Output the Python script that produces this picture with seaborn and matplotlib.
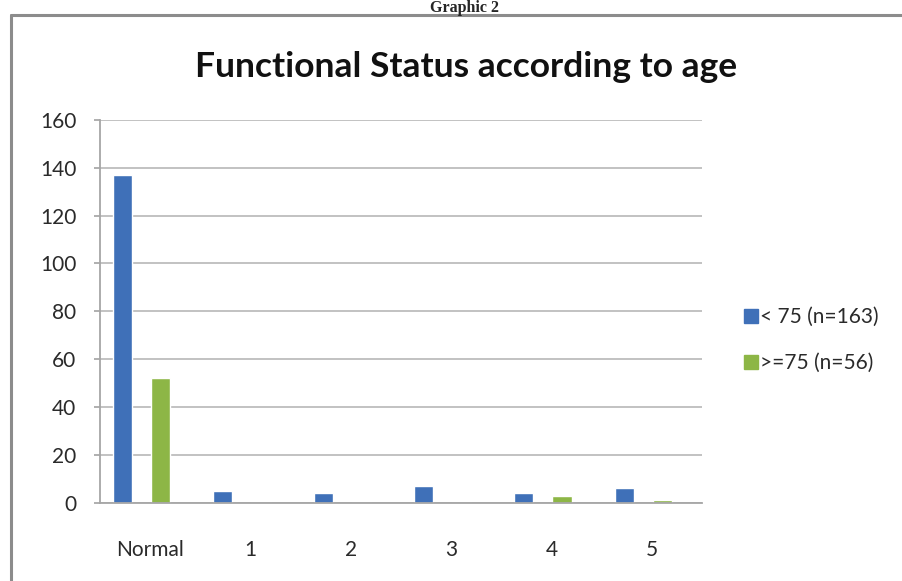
import numpy as np
import pandas as pd
import matplotlib.pyplot as plt
from matplotlib.lines import Line2D
import seaborn as sns

# Data
status = ['Normal', '1', '2', '3', '4', '5']
under_75 = [137, 5, 4, 7, 4, 6]
over_75 = [52, 0, 0, 0, 3, 1]
group_names = ['< 75 (n=163)', '>=75 (n=56)']
y_ticks = [0, 20, 40, 60, 80, 100, 120, 140, 160]

blue = '#3F70B8'
green = '#8DB646'
grid_grey = '#BDBDBD'

df = pd.DataFrame({
    'status': status * 2,
    'count': under_75 + over_75,
    'group': [group_names[0]] * len(status) + [group_names[1]] * len(status),
})

sns.set_theme(style="white")
plt.rcParams['font.family'] = ['Lato', 'DejaVu Sans']

fig = plt.figure(figsize=(9.03, 5.81), dpi=100)
ax = fig.add_axes([0.1107, 0.1348, 0.6667, 0.6587])

sns.barplot(data=df, x='status', y='count', hue='group', order=status,
            hue_order=group_names, palette=[blue, green], saturation=1,
            width=0.76, gap=0.5, ax=ax)

# axes look (Excel style)
ax.set_ylim(0, 160)
ax.set_yticks(y_ticks)
ax.set_xticks(np.arange(len(status)) + 0.085)
ax.set_xticklabels(status)
ax.set_xlim(-0.5 + 0.085, len(status) - 0.5 + 0.085)
ax.set_xlabel('')
ax.set_ylabel('')
ax.yaxis.grid(True, color=grid_grey, lw=1.3)
ax.set_axisbelow(True)
for side in ['top', 'right']:
    ax.spines[side].set_visible(False)
for side in ['left', 'bottom']:
    ax.spines[side].set_color('#A6A6A6')
    ax.spines[side].set_linewidth(1.3)
ax.tick_params(axis='y', left=True, length=4, color='#A6A6A6', pad=13,
               labelsize=15, labelcolor='#2A2A2A')
ax.tick_params(axis='x', bottom=False, pad=21, labelsize=15, labelcolor='#2A2A2A')

# legend to the right
ax.get_legend().remove()
handles = [Line2D([], [], marker='s', ls='', color=c, markersize=10) for c in [blue, green]]
fig.legend(handles, group_names, loc='center left', bbox_to_anchor=(0.804, 0.415),
           frameon=False, fontsize=15, handlelength=0.6, handletextpad=0.15,
           labelspacing=1.25, labelcolor='#2A2A2A')

# titles
fig.text(0.516, 1 - 67 / 581, 'Functional Status according to age', ha='center',
         va='center', fontsize=25.5, fontweight='bold', color='#111111')
fig.text(0.514, 1 - 12 / 581, 'Graphic 2', ha='center', va='baseline',
         fontsize=11.5, fontweight='bold', family='Liberation Serif')

# outer chart frame
fig.add_artist(Line2D([11 / 903, 1], [1 - 15 / 581] * 2, color='#8C8C8C', lw=2.2))
fig.add_artist(Line2D([11 / 903] * 2, [0, 1 - 15 / 581], color='#8C8C8C', lw=2.2))

fig.savefig('out.png', dpi=100)
